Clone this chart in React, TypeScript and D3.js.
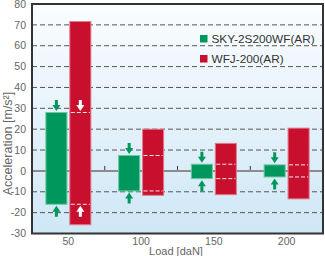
import React from "react";
import * as d3 from "d3";

const categories = ["50", "100", "150", "200"];
const seriesNames = ["SKY-2S200WF(AR)", "WFJ-200(AR)"];
const greenMax = [28, 7.4, 3.2, 2.9];
const greenMin = [-16, -9.6, -3.7, -2.9];
const redMax = [71.6, 20, 13.2, 20.5];
const redMin = [-25.8, -11.7, -11.4, -13.4];
const yTicks = [80, 70, 60, 50, 40, 30, 20, 10, 0, -10, -20, -30];
const whiteArrowCats = ["50"];

const W = 325;
const H = 256;
const FONT = "'Liberation Sans', Arial, Helvetica, sans-serif";
const GREEN = "#00975c";
const RED = "#c8102e";

export default function App() {
  const left = 32, right = 323, top = 4, bottom = 233.5;
  const x = d3.scaleBand<string>().domain(categories).range([left, right]).padding(0);
  const y = d3.scaleLinear().domain([-30, 80]).range([bottom, top]);
  const sub = d3.scaleBand<string>().domain(["g", "r"]).range([-22.5, 22.5]).paddingInner(0.12);
  const bw = sub.bandwidth();

  const downArrow = (cx: number, tip: number) =>
    `M${cx - 1.5},${tip - 11} L${cx + 1.5},${tip - 11} L${cx + 1.5},${tip - 6} L${cx + 4},${tip - 6} L${cx},${tip} L${cx - 4},${tip - 6} L${cx - 1.5},${tip - 6} Z`;
  const upArrow = (cx: number, tip: number) =>
    `M${cx - 1.5},${tip + 11} L${cx + 1.5},${tip + 11} L${cx + 1.5},${tip + 6} L${cx + 4},${tip + 6} L${cx},${tip} L${cx - 4},${tip + 6} L${cx - 1.5},${tip + 6} Z`;

  const grid = yTicks.filter((t) => t !== 0 && t !== 80 && t !== -30);
  const midTicks = categories.slice(1).map((c) => x(c)!);

  return (
    <svg width={W} height={H} style={{ position: "absolute", left: 0, top: 0, background: "#fff" }} fontFamily={FONT}>
      <defs>
        <linearGradient id="bg" x1="0" y1="0" x2="0" y2="1">
          <stop offset="0" stopColor="#fbfdff" />
          <stop offset="1" stopColor="#cfe7f6" />
        </linearGradient>
      </defs>
      <rect x={left} y={top} width={right - left} height={bottom - top} fill="url(#bg)" />
      {grid.map((t) => (
        <line key={t} x1={left} x2={right} y1={y(t)} y2={y(t)} stroke="#555" strokeWidth={1} strokeDasharray="5,3" />
      ))}
      <line x1={left} x2={right} y1={y(0)} y2={y(0)} stroke="#8c8c8c" strokeWidth={2} />
      {midTicks.map((mx, i) => (
        <line key={i} x1={mx} x2={mx} y1={y(0) - 1} y2={y(0) - 5} stroke="#333" strokeWidth={1} />
      ))}
      {categories.map((c, i) => {
        const cx = x(c)! + x.bandwidth() / 2;
        const gx = cx + sub("g")!;
        const rx = cx + sub("r")!;
        const gTop = y(greenMax[i]);
        const gBot = y(greenMin[i]);
        const white = whiteArrowCats.includes(c);
        return (
          <g key={c}>
            <rect x={gx} y={gTop} width={bw} height={gBot - gTop} fill={GREEN} stroke="#6cc9a0" strokeWidth={1} />
            <rect x={rx} y={y(redMax[i])} width={bw} height={y(redMin[i]) - y(redMax[i])} fill={RED} stroke="#e27a8b" strokeWidth={1} />
            <line x1={rx + 1} x2={rx + bw - 1} y1={gTop} y2={gTop} stroke="#fff" strokeWidth={1} strokeDasharray="4,2" opacity={0.9} />
            <line x1={rx + 1} x2={rx + bw - 1} y1={gBot} y2={gBot} stroke="#fff" strokeWidth={1} strokeDasharray="4,2" opacity={0.9} />
            <path d={downArrow(gx + bw / 2, gTop - 1.5)} fill={GREEN} />
            <path d={upArrow(gx + bw / 2, gBot + 1.5)} fill={GREEN} />
            {white && <path d={downArrow(rx + bw / 2, gTop - 1.5)} fill="#fff" />}
            {white && <path d={upArrow(rx + bw / 2, gBot + 1.5)} fill="#fff" />}
          </g>
        );
      })}
      <rect x={left} y={top} width={right - left} height={bottom - top} fill="none" stroke="#333" strokeWidth={2} />
      {yTicks.map((t) => (
        <text key={t} x={26} y={y(t)} dy="0.35em" textAnchor="end" fontSize={10.5} fill="#666">
          {t}
        </text>
      ))}
      {categories.map((c) => (
        <text key={c} x={x(c)! + x.bandwidth() / 2} y={244.5} textAnchor="middle" fontSize={10.5} fill="#666">
          {c}
        </text>
      ))}
      <text x={176} y={255} textAnchor="middle" fontSize={11} fill="#666">Load [daN]</text>
      <text transform="translate(12,143.5) rotate(-90)" textAnchor="middle" fontSize={12.5} fill="#666">
        Acceleration [m/s²]
      </text>
      {seriesNames.map((s, i) => (
        <g key={s}>
          <rect x={200} y={35 + i * 20} width={7.5} height={7.5} fill={i === 0 ? GREEN : RED} />
          <text x={211.5} y={42.5 + i * 20} fontSize={11.8} fill="#333">{s}</text>
        </g>
      ))}
    </svg>
  );
}
